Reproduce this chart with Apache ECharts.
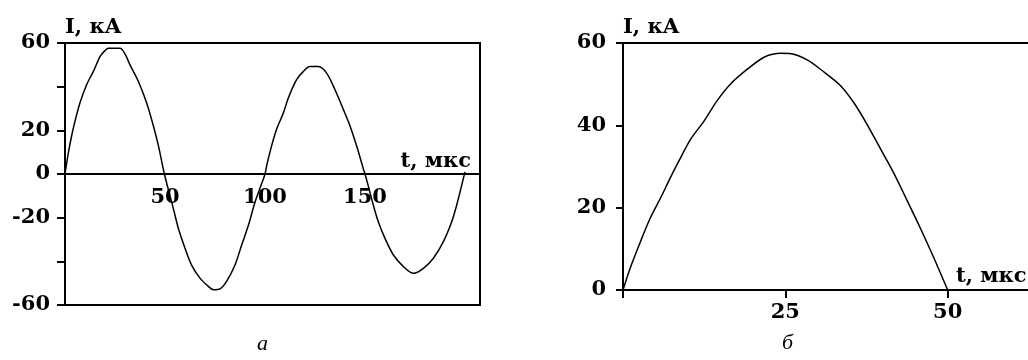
<!DOCTYPE html>
<html>
<head>
<meta charset="utf-8">
<script src="https://cdn.jsdelivr.net/npm/echarts@6/dist/echarts.min.js"></script>
<style>
html,body{margin:0;padding:0;background:#fff;overflow:hidden;}
#chart{width:1028px;height:360px;}
</style>
</head>
<body>
<div id="chart"></div>
<script>
// ---- data ----
// panel а : damped oscillation, t in µs, I in kA
const tA = [0,1.7,3.3,5,7.5,10.8,14.2,17.5,20,21.7,27.5,30,32.5,36.7,40.8,44.2,46.7,49.7,
  52.5,54.5,56.7,60,63.3,67.5,71.7,74.2,77.5,80.8,85,88.3,91.7,95,98.3,100,
  101,103.3,105.8,109.2,111.7,115.8,119.2,122.5,126.7,130.8,135,139.2,142.5,145.8,149.2,150,
  151.5,154.2,156.7,160,164.2,169.2,174.2,179.2,184.2,189.2,193.3,195.8,198.3,200];
const iA = [0,9.8,17.4,24.2,32.6,40.9,47,53.8,56.5,57.6,57.6,55,50,42.4,32.6,22,13,0,
  -10,-17,-25,-34,-41.7,-47.7,-51.5,-53,-52.6,-49.2,-41.7,-32.6,-23.5,-12.9,-4.5,0,
  4.5,12.9,20.5,28,34.9,43.2,47,49.2,49.2,46.2,38.6,29.5,22,12.9,2.3,0,
  -5,-14.4,-22,-29.5,-37.1,-42.4,-45.5,-43.2,-38.6,-31,-22,-14.4,-5.3,1];
// panel б : single half-wave
const tB = [0,1.1,2.7,4.2,5.8,7.3,8.9,10.4,12.5,14.5,16.6,19.2,21.8,24.3,25.9,28.5,30.5,33.4,35.5,37.6,40.1,41.7,43.8,45.8,47.9,50];
const iB = [0,5.3,11.8,17.5,22.4,27.3,32.2,36.6,41.1,46,50.1,53.7,56.6,57.5,57.4,55.8,53.5,49.8,45.6,40.2,33,28.4,21.6,15,7.7,0];

const ticksA_y = ['60','20','0','-20','-60'];
const ticksA_x = ['50','100','150'];
const ticksB_y = ['0','20','40','60'];
const ticksB_x = ['25','50'];
const yName = 'I, кА';
const xName = 't, мкс';
const captions = ['а','б'];

// ---- chart ----
const F = 'DejaVu Serif';
const lab = {color:'#000', fontFamily:F, fontWeight:'bold', fontSize:21};
const pairs = (a,b)=>a.map((v,i)=>[v,b[i]]);
const show = list => v => list.indexOf(String(v)) >= 0 ? String(v) : '';

const chart = echarts.init(document.getElementById('chart'), null, {renderer:'canvas'});
chart.setOption({
  animation:false,
  backgroundColor:'#fff',
  grid:[
    {left:65, top:43, width:415, height:262, show:true, borderColor:'#000', borderWidth:2, backgroundColor:'transparent', outerBoundsMode:'none', containLabel:false},
    {left:623, top:43, width:487, height:247, show:true, borderColor:'#000', borderWidth:2, backgroundColor:'transparent', outerBoundsMode:'none', containLabel:false}
  ],
  xAxis:[
    {gridIndex:0, type:'value', min:0, max:207.5, interval:50, offset:-131,
     axisLine:{onZero:false, lineStyle:{color:'#000', width:2}},
     axisTick:{show:false}, splitLine:{show:false},
     axisLabel:Object.assign({margin:13, formatter:show(ticksA_x), showMinLabel:true, showMaxLabel:true}, lab),
     name:xName, nameLocation:'end', nameGap:-9,
     nameTextStyle:Object.assign({align:'right', verticalAlign:'bottom', padding:[0,0,2,0]}, lab)},
    {gridIndex:1, type:'value', min:0, max:75, interval:25,
     axisLine:{onZero:false, lineStyle:{color:'#000', width:2}},
     axisTick:{show:true, length:8, lineStyle:{color:'#000', width:2}}, splitLine:{show:false},
     axisLabel:Object.assign({margin:12, formatter:show(ticksB_x)}, lab),
     name:xName, nameLocation:'start', nameGap:-333,
     nameTextStyle:Object.assign({align:'left', verticalAlign:'bottom', padding:[0,0,3,0]}, lab)}
  ],
  yAxis:[
    {gridIndex:0, type:'value', min:-60, max:60, interval:20,
     axisLine:{show:true, onZero:false, lineStyle:{color:'#000', width:2}},
     axisTick:{show:true, length:8, lineStyle:{color:'#000', width:2}}, splitLine:{show:false},
     axisLabel:Object.assign({margin:15, formatter:show(ticksA_y), showMinLabel:true, showMaxLabel:true}, lab),
     name:yName, nameLocation:'end', nameGap:5,
     nameTextStyle:Object.assign({align:'left', verticalAlign:'bottom'}, lab)},
    {gridIndex:1, type:'value', min:0, max:60, interval:20,
     axisLine:{show:true, onZero:false, lineStyle:{color:'#000', width:2}},
     axisTick:{show:true, length:7, lineStyle:{color:'#000', width:2}}, splitLine:{show:false},
     axisLabel:Object.assign({margin:17, formatter:show(ticksB_y), showMinLabel:true, showMaxLabel:true}, lab),
     name:yName, nameLocation:'end', nameGap:5,
     nameTextStyle:Object.assign({align:'left', verticalAlign:'bottom'}, lab)}
  ],
  series:[
    {type:'line', xAxisIndex:0, yAxisIndex:0, data:pairs(tA,iA), showSymbol:false, smooth:0.3,
     lineStyle:{color:'#000', width:1.5}},
    {type:'line', xAxisIndex:1, yAxisIndex:1, data:pairs(tB,iB), showSymbol:false, smooth:0.3,
     lineStyle:{color:'#000', width:1.5}}
  ],
  graphic:[
    {type:'text', left:257, top:333, style:{text:captions[0], fill:'#000', font:'italic 22px "Liberation Serif"'}},
    {type:'text', left:782, top:332, style:{text:captions[1], fill:'#000', font:'italic 22px "Liberation Serif"'}}
  ]
});
</script>
</body>
</html>
